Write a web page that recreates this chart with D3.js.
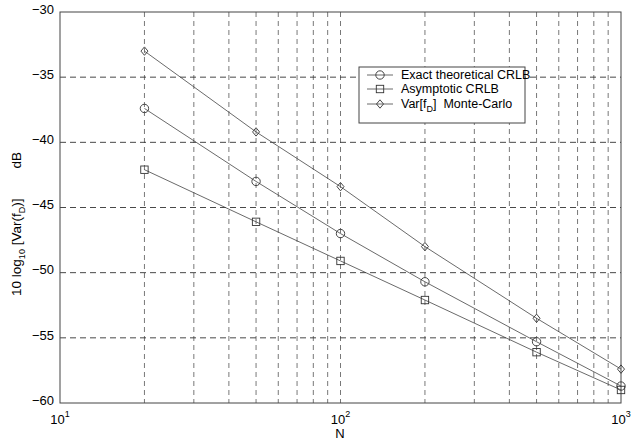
<!DOCTYPE html>
<html><head><meta charset="utf-8">
<script src="https://cdn.jsdelivr.net/npm/d3@7"></script>
<style>body{margin:0;background:#fff}svg{display:block}text{font-family:"Liberation Sans",Arial,sans-serif;fill:#000}</style>
</head><body>
<svg id="c" width="634" height="441"></svg>
<script>
const N = [20, 50, 100, 200, 500, 1000];
const exactCRLB = [-37.4, -43.0, -47.0, -50.7, -55.3, -58.7];
const asymptoticCRLB = [-42.1, -46.1, -49.1, -52.1, -56.1, -59.0];
const monteCarlo = [-33.0, -39.2, -43.4, -48.0, -53.5, -57.4];
const yTicks = [-30, -35, -40, -45, -50, -55, -60];
const xTickExp = [1, 2, 3];
const seriesNames = ["Exact theoretical CRLB", "Asymptotic CRLB", "Monte-Carlo"];

const svg = d3.select("#c");
const L = 60, R = 621, T = 12, B = 403;
const x = d3.scaleLog().domain([10, 1000]).range([L, R]);
const y = d3.scaleLinear().domain([-60, -30]).range([B, T]);

// grid
const gx = [];
for (let d = 10; d < 1000; d *= 10) for (let k = 2; k <= 10; k++) gx.push(d * k);
const g = svg.append("g");
g.selectAll(".vg").data(gx.filter(v => v < 1000)).join("line")
  .attr("x1", d => x(d)).attr("x2", d => x(d)).attr("y1", T).attr("y2", B)
  .attr("stroke", "#555").attr("stroke-width", 0.8).attr("stroke-dasharray", "5,4");
g.selectAll(".hg").data(yTicks.filter(v => v > -60 && v < -30)).join("line")
  .attr("x1", L).attr("x2", R).attr("y1", d => y(d)).attr("y2", d => y(d))
  .attr("stroke", "#333").attr("stroke-width", 0.9).attr("stroke-dasharray", "6,4");

// frame
svg.append("rect").attr("x", L).attr("y", T).attr("width", R - L).attr("height", B - T)
  .attr("fill", "none").attr("stroke", "#444").attr("stroke-width", 1);

// axes ticks
const ya = svg.append("g").attr("transform", `translate(${L},0)`)
  .call(d3.axisLeft(y).tickValues(yTicks).tickSize(0).tickPadding(6).tickFormat(d3.format("d")));
ya.select(".domain").remove();
ya.selectAll("text").attr("font-size", 13).attr("font-family", "Liberation Sans, Arial, sans-serif").attr("dy", "0.1em");

const xa = svg.append("g");
xTickExp.forEach(e => {
  const t = xa.append("text").attr("x", x(Math.pow(10, e))).attr("y", 424).attr("text-anchor", "middle").attr("font-size", 13);
  t.append("tspan").text("10");
  t.append("tspan").attr("dy", -7).attr("font-size", 9).text(e);
});

svg.append("text").attr("x", 340).attr("y", 438).attr("text-anchor", "middle").attr("font-size", 13).text("N");

const yl = svg.append("text").attr("transform", "translate(21,224) rotate(-90)").attr("text-anchor", "middle").attr("font-size", 13.5);
yl.append("tspan").text("10 log");
yl.append("tspan").attr("dy", 4).attr("font-size", 9).text("10");
yl.append("tspan").attr("dy", -4).text(" [Var(f");
yl.append("tspan").attr("dy", 4).attr("font-size", 9).text("D");
yl.append("tspan").attr("dy", -4).text(")]");
yl.append("tspan").attr("dx", 30).text("dB");

// series
const line = d3.line().x((d, i) => x(N[i])).y(d => y(d));
const series = [
  {vals: exactCRLB, m: "circle"},
  {vals: asymptoticCRLB, m: "square"},
  {vals: monteCarlo, m: "diamond"}
];
function marker(sel, type, cx, cy) {
  if (type === "circle") sel.append("circle").attr("cx", cx).attr("cy", cy).attr("r", 4.2)
    .attr("fill", "none").attr("stroke", "#333").attr("stroke-width", 0.9);
  else if (type === "square") sel.append("rect").attr("x", cx - 3.7).attr("y", cy - 3.7).attr("width", 7.4).attr("height", 7.4)
    .attr("fill", "none").attr("stroke", "#333").attr("stroke-width", 0.9);
  else sel.append("path").attr("d", `M${cx},${cy-4.2}L${cx+3.5},${cy}L${cx},${cy+4.2}L${cx-3.5},${cy}Z`)
    .attr("fill", "none").attr("stroke", "#333").attr("stroke-width", 0.9);
}
series.forEach(s => {
  svg.append("path").attr("d", line(s.vals)).attr("fill", "none").attr("stroke", "#444").attr("stroke-width", 0.8);
  const mg = svg.append("g");
  s.vals.forEach((v, i) => marker(mg, s.m, x(N[i]), y(v)));
});

// legend
const lg = svg.append("g");
lg.append("rect").attr("x", 359).attr("y", 67).attr("width", 166).attr("height", 56)
  .attr("fill", "#fff").attr("stroke", "#444").attr("stroke-width", 1);
const rows = [75, 89, 104];
series.forEach((s, i) => {
  lg.append("line").attr("x1", 367).attr("x2", 393).attr("y1", rows[i]).attr("y2", rows[i]).attr("stroke", "#444").attr("stroke-width", 0.8);
  marker(lg, s.m, 380, rows[i]);
  const t = lg.append("text").attr("x", 401).attr("y", rows[i] + 4).attr("font-size", 12.5);
  if (i < 2) t.text(seriesNames[i]);
  else {
    t.append("tspan").text("Var[f");
    t.append("tspan").attr("dy", 4).attr("font-size", 9).text("D");
    t.append("tspan").attr("dy", -4).text("]\u00a0 " + seriesNames[2]);
  }
});
</script>
</body></html>
